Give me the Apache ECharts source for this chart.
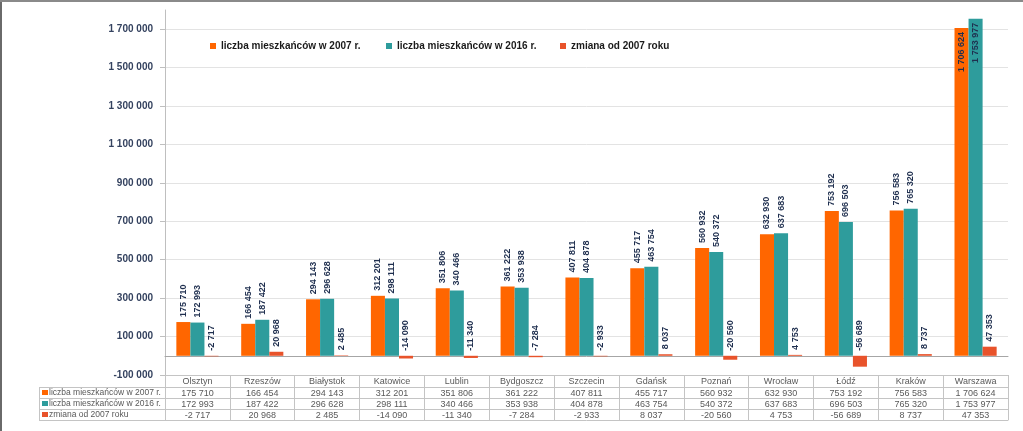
<!DOCTYPE html>
<html>
<head>
<meta charset="utf-8">
<script src="https://cdn.jsdelivr.net/npm/echarts@6/dist/echarts.min.js"></script>
<style>
html,body{margin:0;padding:0;background:#fff;}
#chart{width:1023px;height:431px;}
</style>
</head>
<body>
<div id="chart"></div>
<script>
const categories = ['Olsztyn','Rzeszów','Białystok','Katowice','Lublin','Bydgoszcz','Szczecin','Gdańsk','Poznań','Wrocław','Łódź','Kraków','Warszawa'];
const pop2007 = [175710,166454,294143,312201,351806,361222,407811,455717,560932,632930,753192,756583,1706624];
const pop2016 = [172993,187422,296628,298111,340466,353938,404878,463754,540372,637683,696503,765320,1753977];
const change = [-2717,20968,2485,-14090,-11340,-7284,-2933,8037,-20560,4753,-56689,8737,47353];
const seriesNames = ['liczba mieszkańców w 2007 r.','liczba mieszkańców w 2016 r.','zmiana od 2007 roku'];
const colors = ['#FF6600','#2E9C9C','#E8532B'];
const yMin = -100000, yMax = 1800000, yInterval = 200000;

function fmt(v){
  const s = Math.abs(v).toString().replace(/\B(?=(\d{3})+(?!\d))/g,' ');
  return (v < 0 ? '-' : '') + s;
}

const regular = "'Liberation Sans',Arial,sans-serif";

const baseLabel = {
  show: true, position: 'top', rotate: 90, align: 'left', verticalAlign: 'middle',
  distance: 5, fontSize: 9, fontWeight: 'bold', fontFamily: regular, color: '#1F2F4F',
  formatter: p => fmt(p.value)
};
function toData(arr){
  return arr.map(v => v > 1650000
    ? {value: v, label: {position: 'insideTop', align: 'right', distance: 4}}
    : v);
}

const tableLine = {color: '#C4C4C4', width: 1};
function rowAxis(offset, values){
  return {
    type: 'category', data: categories, position: 'bottom', offset: offset,
    axisLine: {show: true, onZero: false, lineStyle: tableLine},
    axisTick: {show: false},
    axisLabel: values ? {
      show: true, margin: 2, fontSize: 9, fontFamily: regular, color: '#595959',
      interval: 0, formatter: (v, i) => fmt(values[i])
    } : {show: false},
    splitLine: {show: false}
  };
}

const keyX0 = 39, keyX1 = 165;
const rowsY = [387, 398, 409, 420];
const graphics = [];
rowsY.forEach(y => graphics.push({type:'line', shape:{x1:keyX0, y1:y+0.5, x2:keyX1, y2:y+0.5}, style:{stroke:'#C4C4C4', lineWidth:1}, silent:true}));
graphics.push({type:'line', shape:{x1:keyX0+0.5, y1:387, x2:keyX0+0.5, y2:420}, style:{stroke:'#C4C4C4', lineWidth:1}, silent:true});
seriesNames.forEach((n, i) => {
  const yc = rowsY[i] + 6;
  graphics.push({type:'rect', shape:{x:42, y:yc-3, width:6, height:5}, style:{fill:colors[i]}, silent:true});
  graphics.push({type:'text', x:49, y:yc, style:{text:n, fontSize:8.5, fontFamily:regular, fill:'#595959', verticalAlign:'middle', align:'left'}, silent:true});
});
graphics.push({type:'line', shape:{x1:1, y1:0, x2:1, y2:431}, style:{stroke:'#6A6A6A', lineWidth:2}, silent:true});
graphics.push({type:'line', shape:{x1:0, y1:1, x2:1023, y2:1}, style:{stroke:'#8A8A8A', lineWidth:2}, silent:true});

const legendLefts = [205, 381, 555];
const legends = seriesNames.map((n, i) => ({
  data: [n], top: 36, left: legendLefts[i], icon: 'rect', itemWidth: 6, itemHeight: 6,
  textStyle: {fontSize: 10, fontWeight: 'bold', fontFamily: regular, color: '#1A1A1A'}
}));

const chart = echarts.init(document.getElementById('chart'), null, {renderer:'canvas'});
chart.setOption({
  animation: false,
  backgroundColor: '#fff',
  color: colors,
  grid: {left: 165, right: 15, top: 10, bottom: 56, containLabel: false},
  legend: legends,
  xAxis: [
    {
      type: 'category', data: categories,
      axisLine: {show: true, onZero: true, lineStyle: {color: '#A6A6A6'}},
      axisTick: {show: false}, axisLabel: {show: false}, splitLine: {show: false}
    },
    {
      type: 'category', data: categories, position: 'bottom', offset: 0,
      axisLine: {show: true, onZero: false, lineStyle: tableLine},
      axisTick: {show: true, length: 45, interval: 0, alignWithLabel: false, lineStyle: tableLine},
      axisLabel: {show: true, margin: 2, fontSize: 9, fontFamily: regular, color: '#595959', interval: 0},
      splitLine: {show: false}
    },
    rowAxis(12, pop2007),
    rowAxis(23, pop2016),
    rowAxis(34, change),
    rowAxis(45, null)
  ],
  yAxis: {
    type: 'value', min: yMin, max: yMax, interval: yInterval,
    axisLine: {show: true, lineStyle: {color: '#BFBFBF'}},
    axisTick: {show: true, length: 5, lineStyle: {color: '#BFBFBF'}},
    axisLabel: {formatter: fmt, showMaxLabel: false, fontSize: 10, fontWeight: 'bold', fontFamily: regular, color: '#34425F', margin: 12},
    splitLine: {show: true, showMaxLine: false, lineStyle: {color: '#E3E3E3'}}
  },
  series: [
    {name: seriesNames[0], type: 'bar', data: toData(pop2007), barGap: '0%', barCategoryGap: '35%', label: baseLabel},
    {name: seriesNames[1], type: 'bar', data: toData(pop2016), barGap: '0%', barCategoryGap: '35%', label: baseLabel},
    {name: seriesNames[2], type: 'bar', data: change, barGap: '0%', barCategoryGap: '35%', label: baseLabel}
  ],
  graphic: graphics
});
</script>
</body>
</html>
